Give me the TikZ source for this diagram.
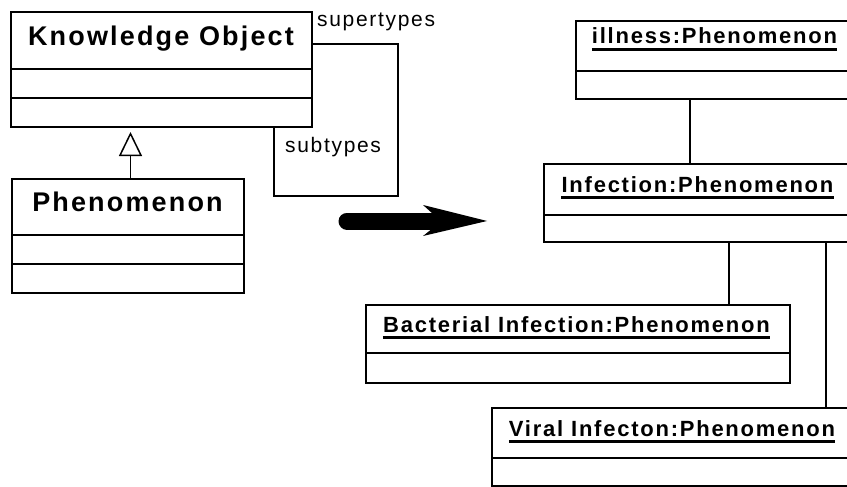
\documentclass[tikz,border=0pt]{standalone}
\usepackage{fontspec}
\setmainfont{Liberation Sans}
\newfontfamily\umlfont[LetterSpace=8]{Liberation Sans}
\usetikzlibrary{calc,arrows.meta}
\begin{document}
\begin{tikzpicture}[x=1pt,y=-1pt,
  box/.style={draw,line width=1.5pt,inner sep=0pt,outer sep=0pt},
  conn/.style={line width=1.6pt},
  bigname/.style={inner sep=0pt,font=\umlfont\bfseries\fontsize{27}{31}\selectfont},
  lbl/.style={inner sep=0pt,font=\umlfont\fontsize{21}{25}\selectfont},
  objname/.style={inner sep=0pt,font=\umlfont\bfseries\fontsize{22}{26}\selectfont},
  uline/.style={line width=3.3pt}]
\clip (0,0) rectangle (847,487);
\fill[white] (0,0) rectangle (847,487);
% Knowledge Object class
\node[box,minimum width=301pt,minimum height=57pt] (ko1) at (161.5,40.5) {};
\node[box,minimum width=301pt,minimum height=29pt] (ko2) at (161.5,83.5) {};
\node[box,minimum width=301pt,minimum height=29pt] (ko3) at (161.5,112.5) {};
\node[bigname,anchor=base] (kot) at (161,46) {Knowledge Object};
% Phenomenon class
\node[box,minimum width=232pt,minimum height=56pt] (ph1) at (128,207) {};
\node[box,minimum width=232pt,minimum height=29pt] (ph2) at (128,249.5) {};
\node[box,minimum width=232pt,minimum height=29pt] (ph3) at (128,278.5) {};
\node[bigname,anchor=base] (pht) at (127.5,211) {Phenomenon};
% generalization
\coordinate (gx) at (130.5,0);
\draw[conn,-{Triangle[open,length=24pt,width=23pt,line width=1.5pt]},shorten >=5pt] (gx |- ph1.north) -- (gx |- ko3.south);
% supertypes / subtypes loop
\coordinate (c1) at (398,196);
\coordinate (c2) at ($(ko3.south east)+(-38,0)$);
\draw[conn] ([yshift=-3.5pt]ko1.east) -| (c1) -| (c2);
\node[lbl,anchor=base west] (sup) at (317,27) {supertypes};
\node[lbl,anchor=base west] (sub) at (285,153) {subtypes};
% big arrow
\coordinate (as) at (347,221);
\coordinate (ae) at (440,221);
\draw[line width=17pt,line cap=round] (as) -- (ae);
\fill (423,205) -- (487,221) -- (423,236) -- (433,228) -- (433,214) -- cycle;
% object boxes
\node[box,minimum width=304pt,minimum height=50pt] (il1) at (728,46) {};
\node[box,minimum width=304pt,minimum height=28pt] (il2) at (728,85) {};
\node[objname,anchor=base] (ilt) at (714.5,44) {illness:Phenomenon};
\node[box,minimum width=336pt,minimum height=51pt] (in1) at (712,189.5) {};
\node[box,minimum width=336pt,minimum height=27pt] (in2) at (712,228.5) {};
\node[objname,anchor=base] (int) at (697.5,192) {Infection:Phenomenon};
\node[box,minimum width=424pt,minimum height=48pt] (ba1) at (578,329) {};
\node[box,minimum width=424pt,minimum height=30pt] (ba2) at (578,368) {};
\node[objname,anchor=base] (bat) at (576.5,332) {Bacterial Infection:Phenomenon};
\node[box,minimum width=388pt,minimum height=50pt] (vi1) at (686,433) {};
\node[box,minimum width=388pt,minimum height=28pt] (vi2) at (686,472) {};
\node[objname,anchor=base] (vit) at (672,436) {Viral Infecton:Phenomenon};
\foreach \n in {ilt,int,bat,vit}
  \draw[uline] ($(\n.base west)+(0,5.5)$) -- ($(\n.base east)+(0,5.5)$);
% links
\coordinate (l1) at ($(il2.south west)+(114,0)$);
\coordinate (l2) at ($(in2.south west)+(185,0)$);
\coordinate (l3) at ($(in2.south west)+(282,0)$);
\draw[conn] (l1) -- (l1 |- in1.north);
\draw[conn] (l2) -- (l2 |- ba1.north);
\draw[conn] (l3) -- (l3 |- vi1.north);
\end{tikzpicture}
\end{document}
